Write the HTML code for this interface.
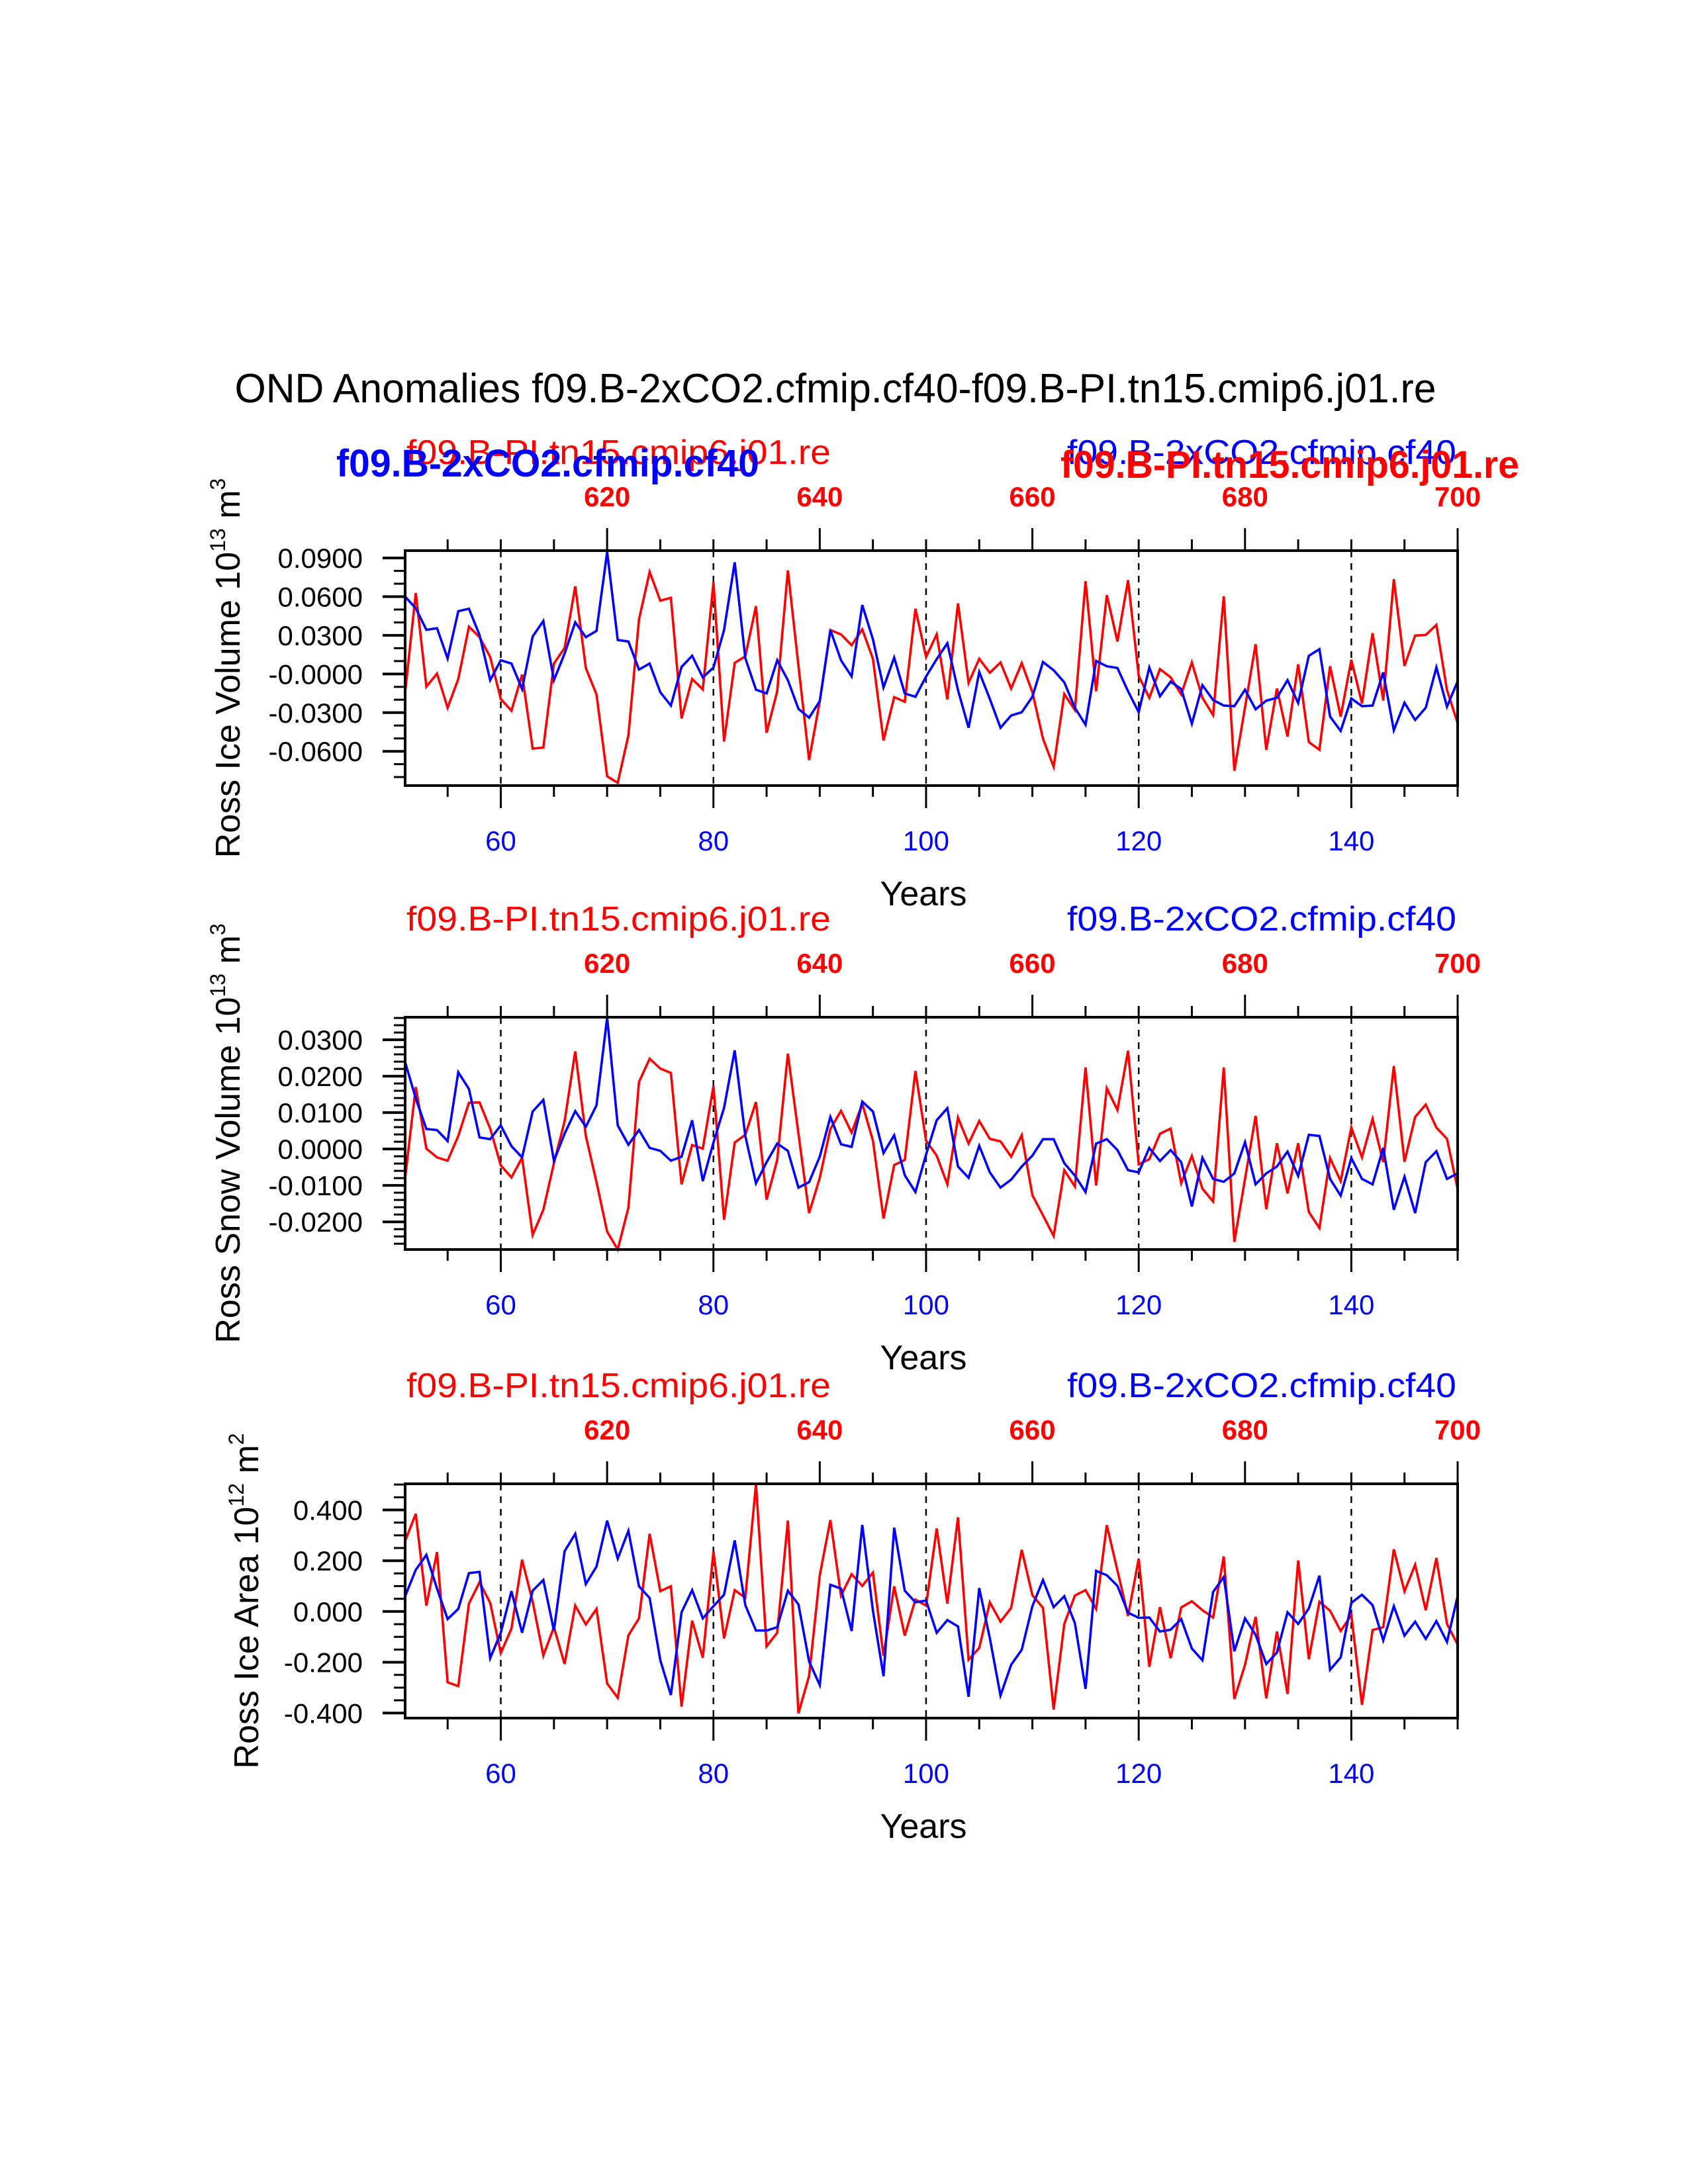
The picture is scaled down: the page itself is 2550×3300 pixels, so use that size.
<!DOCTYPE html>
<html><head><meta charset="utf-8"><style>
html,body{margin:0;padding:0;background:#fff;}
svg{display:block;font-family:"Liberation Sans",sans-serif;}
</style></head>
<body>
<svg id="chart" width="2550" height="3300" viewBox="0 0 2550 3300" xmlns="http://www.w3.org/2000/svg">
<rect width="2550" height="3300" fill="#fff"/>
<text x="1262" y="608" font-size="62" text-anchor="middle" fill="#000" textLength="1815" lengthAdjust="spacingAndGlyphs">OND Anomalies f09.B-2xCO2.cfmip.cf40-f09.B-PI.tn15.cmip6.j01.re</text>
</svg>
<script>
// ---- data ----
const years = []; for (let y = 51; y <= 150; y++) years.push(y);
const topTickLabels = ["620","640","660","680","700"];
const bottomTickLabels = ["60","80","100","120","140"];

const volBlue = [0.0600,0.0509,0.0343,0.0355,0.0120,0.0487,0.0506,0.0303,-0.0048,0.0106,0.0081,-0.0117,0.0291,0.0411,-0.0048,0.0158,0.0401,0.0286,0.0334,0.0946,0.0264,0.0252,0.0034,0.0081,-0.0142,-0.0245,0.0055,0.0141,-0.0027,0.0050,0.0341,0.0866,0.0123,-0.0122,-0.0151,0.0106,-0.0048,-0.0271,-0.0339,-0.0211,0.0341,0.0106,-0.0019,0.0535,0.0269,-0.0105,0.0127,-0.0151,-0.0177,-0.0019,
0.0115,0.0238,-0.0125,-0.0417,0.0015,-0.0194,-0.0417,-0.0322,-0.0297,-0.0177,0.0093,0.0029,-0.0065,-0.0262,-0.0394,0.0101,0.0060,0.0046,-0.0134,-0.0297,0.0050,-0.0173,-0.0060,-0.0117,-0.0386,-0.0087,-0.0202,-0.0245,-0.0250,-0.0122,-0.0274,-0.0207,-0.0185,-0.0048,-0.0225,0.0141,0.0192,-0.0331,-0.0442,-0.0190,-0.0250,-0.0245,0.0012,-0.0437,-0.0223,-0.0357,-0.0262,0.0051,-0.0254,-0.0057];
const volRed = [-0.0142,0.0629,-0.0099,0.0003,-0.0262,-0.0039,0.0367,0.0286,0.0132,-0.0194,-0.0285,-0.0005,-0.0579,-0.0571,0.0081,0.0201,0.0680,0.0046,-0.0159,-0.0794,-0.0845,-0.0477,0.0423,0.0792,0.0569,0.0591,-0.0345,-0.0039,-0.0120,0.0710,-0.0524,0.0086,0.0137,0.0526,-0.0456,-0.0134,0.0804,0.0063,-0.0668,-0.0211,0.0341,0.0307,0.0223,0.0346,0.0118,-0.0516,-0.0180,-0.0216,0.0506,0.0132,
0.0307,-0.0197,0.0547,-0.0069,0.0118,0.0009,0.0089,-0.0113,0.0084,-0.0142,-0.0502,-0.0720,-0.0156,-0.0279,0.0720,-0.0134,0.0612,0.0252,0.0728,-0.0014,-0.0185,0.0038,-0.0026,-0.0159,0.0089,-0.0185,-0.0319,0.0603,-0.0751,-0.0259,0.0231,-0.0588,-0.0113,-0.0485,0.0075,-0.0528,-0.0588,0.0060,-0.0331,0.0110,-0.0228,0.0317,-0.0206,0.0735,0.0063,0.0298,0.0303,0.0381,-0.0125,-0.0381];

const snowBlue = [0.0239,0.0139,0.0055,0.0052,0.0022,0.0211,0.0165,0.0032,0.0027,0.0065,0.0008,-0.0023,0.0103,0.0135,-0.0032,0.0042,0.0104,0.0061,0.0120,0.0361,0.0065,0.0012,0.0052,0.0003,-0.0005,-0.0032,-0.0021,0.0079,-0.0088,0.0018,0.0113,0.0271,0.0036,-0.0094,-0.0036,0.0015,-0.0005,-0.0106,-0.0091,-0.0021,0.0088,0.0013,0.0006,0.0130,0.0103,-0.0011,0.0038,-0.0072,-0.0118,-0.0015,
0.0079,0.0112,-0.0048,-0.0079,0.0009,-0.0064,-0.0106,-0.0084,-0.0048,-0.0018,0.0027,0.0027,-0.0039,-0.0073,-0.0118,0.0015,0.0027,-0.0003,-0.0058,-0.0064,0.0003,-0.0033,-0.0003,-0.0036,-0.0158,-0.0024,-0.0082,-0.0090,-0.0067,0.0019,-0.0097,-0.0067,-0.0048,-0.0007,-0.0074,0.0039,0.0036,-0.0082,-0.0128,-0.0025,-0.0082,-0.0097,0.0003,-0.0167,-0.0076,-0.0176,-0.0036,-0.0006,-0.0082,-0.0067];
const snowRed = [-0.0079,0.0170,0.0001,-0.0023,-0.0032,0.0036,0.0127,0.0128,0.0056,-0.0045,-0.0078,-0.0024,-0.0236,-0.0167,-0.0039,0.0076,0.0268,0.0036,-0.0091,-0.0227,-0.0276,-0.0161,0.0184,0.0248,0.0221,0.0209,-0.0097,0.0011,0.0001,0.0173,-0.0194,0.0018,0.0039,0.0129,-0.0139,-0.0030,0.0262,0.0042,-0.0176,-0.0079,0.0055,0.0105,0.0045,0.0124,0.0023,-0.0191,-0.0044,-0.0030,0.0214,0.0023,
-0.0018,-0.0097,0.0086,0.0015,0.0077,0.0028,0.0021,-0.0021,0.0038,-0.0127,-0.0182,-0.0239,-0.0058,-0.0103,0.0224,-0.0100,0.0167,0.0107,0.0270,-0.0042,-0.0028,0.0042,0.0056,-0.0094,-0.0019,-0.0109,-0.0144,0.0224,-0.0255,-0.0082,0.0091,-0.0165,0.0016,-0.0122,0.0016,-0.0173,-0.0217,-0.0025,-0.0088,0.0059,-0.0023,0.0083,-0.0036,0.0228,-0.0035,0.0088,0.0122,0.0059,0.0028,-0.0110];

const areaBlue = [0.060,0.164,0.223,0.090,-0.030,0.010,0.151,0.156,-0.184,-0.084,0.080,-0.084,0.082,0.124,-0.075,0.237,0.306,0.108,0.177,0.358,0.208,0.318,0.099,0.053,-0.192,-0.329,-0.003,0.084,-0.027,0.021,0.066,0.280,0.025,-0.075,-0.075,-0.062,0.082,0.028,-0.197,-0.290,0.105,0.090,-0.077,0.341,0.003,-0.255,0.330,0.082,0.036,0.043,
-0.084,-0.034,-0.059,-0.336,0.092,-0.105,-0.331,-0.210,-0.151,0.021,0.124,0.017,0.060,-0.046,-0.305,0.160,0.143,0.101,-0.005,-0.025,-0.024,-0.079,-0.072,-0.030,-0.146,-0.192,0.077,0.136,-0.157,-0.027,-0.092,-0.207,-0.162,-0.003,-0.049,0.012,0.141,-0.230,-0.181,0.034,0.066,0.025,-0.114,0.021,-0.095,-0.040,-0.108,-0.038,-0.120,0.060];
const areaRed = [0.278,0.385,0.023,0.234,-0.279,-0.294,0.031,0.115,0.034,-0.164,-0.068,0.204,0.038,-0.173,-0.062,-0.207,0.023,-0.051,0.010,-0.284,-0.340,-0.094,-0.027,0.306,0.080,0.099,-0.375,-0.036,-0.182,0.237,-0.106,0.084,0.054,0.502,-0.137,-0.084,0.358,-0.401,-0.253,0.143,0.360,0.062,0.147,0.101,0.153,-0.175,0.099,-0.095,0.047,0.023,
0.327,0.031,0.371,-0.190,-0.144,0.036,-0.040,0.014,0.243,0.064,0.014,-0.386,-0.049,0.063,0.084,0.010,0.340,0.161,-0.018,0.208,-0.218,0.017,-0.184,0.016,0.040,0.005,-0.024,0.217,-0.345,-0.210,-0.021,-0.342,-0.079,-0.325,0.201,-0.188,0.038,0.003,-0.077,-0.014,-0.368,-0.073,-0.062,0.245,0.079,0.184,0.005,0.211,-0.049,-0.130];

const volTicks = [-0.06,-0.03,0,0.03,0.06,0.09];
const volTickLabels = ["-0.0600","-0.0300","-0.0000","0.0300","0.0600","0.0900"];
const snowTicks = [-0.02,-0.01,0,0.01,0.02,0.03];
const snowTickLabels = ["-0.0200","-0.0100","0.0000","0.0100","0.0200","0.0300"];
const areaTicks = [-0.4,-0.2,0,0.2,0.4];
const areaTickLabels = ["-0.400","-0.200","0.000","0.200","0.400"];

// ---- drawing ----
const NS = "http://www.w3.org/2000/svg";
const svg = document.getElementById("chart");
const X0 = 612, X1 = 2202, Y0 = 51, Y1 = 150;
function xs(yr){ return X0 + (yr - Y0) * (X1 - X0) / (Y1 - Y0); }
function mk(tag, attrs, parent){ const e = document.createElementNS(NS, tag); for (const k in attrs) e.setAttribute(k, attrs[k]); (parent||svg).appendChild(e); return e; }

const panels = [
 {key:"volume", top:832, bot:1187, min:-0.0866, max:0.0957, minor:0.01, ticks:volTicks, labels:volTickLabels, blue:volBlue, red:volRed, lab:["Ross Ice Volume 10","13"," m","3"], labX:344},
 {key:"snow", top:1537, bot:1888, min:-0.0276, max:0.0362, minor:0.002, ticks:snowTicks, labels:snowTickLabels, blue:snowBlue, red:snowRed, lab:["Ross Snow Volume 10","13"," m","3"], labX:344},
 {key:"area", top:2242, bot:2596, min:-0.42, max:0.503, minor:0.05, ticks:areaTicks, labels:areaTickLabels, blue:areaBlue, red:areaRed, lab:["Ross Ice Area 10","12"," m","2"], labX:372}
];

panels.forEach((p, pi) => {
  const g = mk("g", {});
  
  
  const ys = v => p.bot - (v - p.min) * (p.bot - p.top) / (p.max - p.min);

  // dashed grid lines
  for (const yr of [60,80,100,120,140]) {
    const l = mk("line", {x1:xs(yr), x2:xs(yr), y1:p.top, y2:p.bot, stroke:"#000", "stroke-width":2.5, "stroke-dasharray":"10 9"}, g);
    
    
  }
  // series
  const mkLine = (arr, col, nm) => {
    const pts = arr.map((v, i) => xs(years[i]).toFixed(1) + "," + ys(v).toFixed(1)).join(" ");
    const pl = mk("polyline", {points:pts, fill:"none", stroke:col, "stroke-width":3.6, "stroke-linejoin":"miter"}, g);
    
    
  };
  mkLine(p.red, "#ff0000", p.key + "-pi-line");
  mkLine(p.blue, "#0000ff", p.key + "-2xco2-line");
  // frame
  const fr = mk("rect", {x:X0, y:p.top, width:X1-X0, height:p.bot-p.top, fill:"none", stroke:"#000", "stroke-width":4}, g);
  
  

  // x ticks (top & bottom)
  for (let yr = 55; yr <= 150; yr += 5) {
    const major = yr % 20 === 10 ? true : false;
    const bmaj = yr % 20 === 0;
    const tl = major ? 34 : 17;
    mk("line", {x1:xs(yr), x2:xs(yr), y1:p.top, y2:p.top - tl, stroke:"#000", "stroke-width":3}, g);
    const bl = bmaj ? 34 : 17;
    mk("line", {x1:xs(yr), x2:xs(yr), y1:p.bot, y2:p.bot + bl, stroke:"#000", "stroke-width":3}, g);
  }
  [70,90,110,130,150].forEach((yr, i) => {
    const t = mk("text", {x:xs(yr), y:p.top - 67, "font-size":42, "font-weight":"bold", fill:"#ff0000", "text-anchor":"middle"}, g);
    t.textContent = topTickLabels[i];
    
    
  });
  [60,80,100,120,140].forEach((yr, i) => {
    const t = mk("text", {x:xs(yr), y:p.bot + 98, "font-size":42, fill:"#0000ff", "text-anchor":"middle"}, g);
    t.textContent = bottomTickLabels[i];
    
    
  });
  const xt = mk("text", {x:1395, y:p.bot + 181, "font-size":52, fill:"#000", "text-anchor":"middle"}, g);
  xt.textContent = "Years";
  
  

  // y ticks
  const nMin = Math.ceil(p.min / p.minor - 1e-6), nMax = Math.floor(p.max / p.minor + 1e-6);
  for (let n = nMin; n <= nMax; n++) {
    const v = n * p.minor;
    mk("line", {x1:X0, x2:X0 - 17, y1:ys(v), y2:ys(v), stroke:"#000", "stroke-width":3}, g);
  }
  p.ticks.forEach((v, i) => {
    mk("line", {x1:X0, x2:X0 - 34, y1:ys(v), y2:ys(v), stroke:"#000", "stroke-width":4}, g);
    const t = mk("text", {x:548, y:ys(v) + 15, "font-size":42, fill:"#000", "text-anchor":"end"}, g);
    t.textContent = p.labels[i];
    
    
  });

  // y title
  const cy = (p.top + p.bot) / 2;
  const yt = mk("text", {x:0, y:0, "font-size":52, fill:"#000", "text-anchor":"middle", transform:"translate(" + (p.labX + 18) + "," + cy + ") rotate(-90)"}, g);
  
  
  const parts = p.lab;
  const s1 = mk("tspan", {}, yt); s1.textContent = parts[0];
  const s2 = mk("tspan", {"font-size":32, dy:-22}, yt); s2.textContent = parts[1];
  const s3 = mk("tspan", {dy:22}, yt); s3.textContent = parts[2];
  const s4 = mk("tspan", {"font-size":32, dy:-22}, yt); s4.textContent = parts[3];

  // header labels
  const hY = p.top - 131;
  const r1 = mk("text", {x:614, y:hY, "font-size":52, fill:"#ff0000", textLength:641, lengthAdjust:"spacingAndGlyphs"}, g);
  r1.textContent = "f09.B-PI.tn15.cmip6.j01.re";
  
  
  const b1 = mk("text", {x:1612, y:hY, "font-size":52, fill:"#0000ff", textLength:588, lengthAdjust:"spacingAndGlyphs"}, g);
  b1.textContent = "f09.B-2xCO2.cfmip.cf40";
  
  
  if (pi === 0) {
    const b2 = mk("text", {x:508, y:720, "font-size":58, "font-weight":"bold", fill:"#0000ff", textLength:639, lengthAdjust:"spacingAndGlyphs"}, g);
    b2.textContent = "f09.B-2xCO2.cfmip.cf40";
    
    
    const r2 = mk("text", {x:1602, y:722, "font-size":58, "font-weight":"bold", fill:"#ff0000", textLength:693, lengthAdjust:"spacingAndGlyphs"}, g);
    r2.textContent = "f09.B-PI.tn15.cmip6.j01.re";
    
    
  }
});
</script>
</body></html>
